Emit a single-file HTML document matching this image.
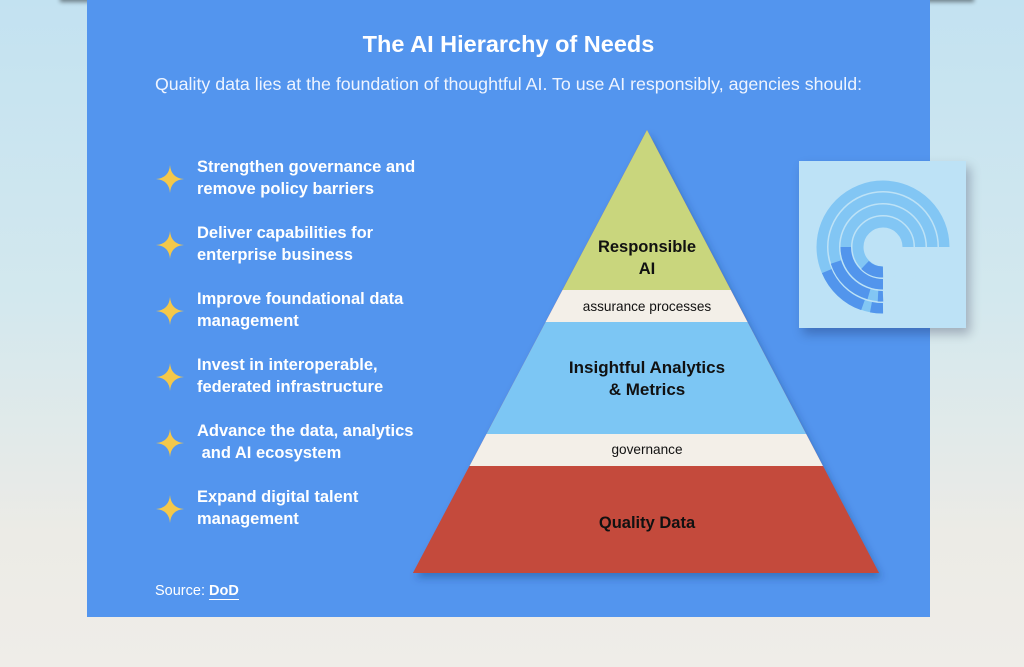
<!DOCTYPE html>
<html><head><style>
html,body{margin:0;padding:0}
body{width:1024px;height:667px;overflow:hidden;position:relative;background:linear-gradient(180deg,#c3e2f1 0%,#d3e8ee 45%,#ecebe6 80%,#efede8 100%);font-family:"Liberation Sans",sans-serif}
.panel{position:absolute;left:87px;top:0;width:843px;height:617px;background:#5395ee}
.top{position:absolute;left:60px;top:-6px;width:914px;height:6px;box-shadow:0 2px 4px rgba(0,0,0,.45)}
h1{position:absolute;left:87px;width:843px;top:31px;margin:0;text-align:center;color:#fff;font-size:23.5px;font-weight:bold}
.sub{position:absolute;left:87px;width:843px;top:74px;text-align:center;color:#eef4ff;font-size:17.8px}
.item{position:absolute;left:197px;color:#fff;font-size:16.5px;font-weight:bold;line-height:22px}
.star{position:absolute;left:155px;width:30px;height:30px}
.src{position:absolute;left:155px;top:583px;color:#fff;font-size:14.5px}
.src b{border-bottom:1px solid #fff}
.logo{position:absolute;left:799px;top:161px;width:167px;height:167px;background:#bde2f6;box-shadow:4px 6px 10px rgba(0,0,40,.25)}
</style></head><body>
<div class="top"></div>
<div class="panel"></div>
<h1>The AI Hierarchy of Needs</h1>
<div class="sub">Quality data lies at the foundation of thoughtful AI. To use AI responsibly, agencies should:</div>

<svg width="0" height="0" style="position:absolute"><defs><g id="st"><path d="M15 1 Q16 14 29 15 Q16 16 15 29 Q14 16 1 15 Q14 14 15 1Z" fill="#f4c84a"/></g></defs></svg>
<svg class="star" style="top:164px"><use href="#st"/></svg>
<svg class="star" style="top:230px"><use href="#st"/></svg>
<svg class="star" style="top:296px"><use href="#st"/></svg>
<svg class="star" style="top:362px"><use href="#st"/></svg>
<svg class="star" style="top:428px"><use href="#st"/></svg>
<svg class="star" style="top:494px"><use href="#st"/></svg>
<div class="item" style="top:156px">Strengthen governance and<br>remove policy barriers</div>
<div class="item" style="top:222px">Deliver capabilities for<br>enterprise business</div>
<div class="item" style="top:288px">Improve foundational data<br>management</div>
<div class="item" style="top:354px">Invest in interoperable,<br>federated infrastructure</div>
<div class="item" style="top:420px">Advance the data, analytics<br>&nbsp;and AI ecosystem</div>
<div class="item" style="top:486px">Expand digital talent<br>management</div>
<div class="src">Source: <b>DoD</b></div>

<svg style="position:absolute;left:0;top:0" width="1024" height="667">
<defs>
<clipPath id="tri"><polygon points="647,130 879,573 413,573"/></clipPath>
<filter id="sh" x="-10%" y="-10%" width="130%" height="130%"><feDropShadow dx="3" dy="5" stdDeviation="4" flood-color="#103070" flood-opacity=".35"/></filter>
</defs>
<polygon points="647,130 879,573 413,573" fill="#c44a3c" filter="url(#sh)"/>
<g clip-path="url(#tri)">
<rect x="400" y="130" width="500" height="160" fill="#c9d67d"/>
<rect x="400" y="290" width="500" height="32" fill="#f3efe8"/>
<rect x="400" y="322" width="500" height="112" fill="#7cc6f4"/>
<rect x="400" y="434" width="500" height="32" fill="#f3efe8"/>
<rect x="400" y="466" width="500" height="107" fill="#c44a3c"/>
</g>
<g font-family="Liberation Sans,sans-serif" text-anchor="middle" fill="#111">
<text x="647" y="252" font-size="16.5" font-weight="bold">Responsible</text>
<text x="647" y="274" font-size="16.5" font-weight="bold">AI</text>
<text x="647" y="311" font-size="13.6">assurance processes</text>
<text x="647" y="373" font-size="17" font-weight="bold">Insightful Analytics</text>
<text x="647" y="395" font-size="17" font-weight="bold">&amp; Metrics</text>
<text x="647" y="454" font-size="13.6">governance</text>
<text x="647" y="528" font-size="16.5" font-weight="bold">Quality Data</text>
</g>
</svg>

<div class="logo">
<svg width="167" height="167" viewBox="799 161 167 167" fill="none">
<g stroke="#82c6f4" stroke-width="11">
<path d="M822 247 A61 61 0 0 1 944 247"/>
<path d="M834 247 A49 49 0 0 1 932 247"/>
<path d="M846 247 A37 37 0 0 1 920 247"/>
<path d="M858 247 A25 25 0 0 1 908 247"/>
<path d="M822 247 A61 61 0 0 0 883 308"/>
<path d="M834 247 A49 49 0 0 0 883 296"/>
<path d="M846 247 A37 37 0 0 0 883 284"/>
<path d="M858 247 A25 25 0 0 0 883 272"/>
</g>
<g stroke="#5295ec" stroke-width="11">
<path d="M827 271 A61 61 0 0 0 863 305"/>
<path d="M836 262 A49 49 0 0 0 869 294"/>
<path d="M846 247 A37 37 0 0 0 883 284"/>
<path d="M865 265 A25 25 0 0 0 883 272"/>
<path d="M871 307 A61 61 0 0 0 883 308"/>
<path d="M878 296 A49 49 0 0 0 883 296"/>
</g>
<g stroke="#bde2f6" stroke-width="1">
<circle cx="883" cy="247" r="55.5"/><circle cx="883" cy="247" r="43.5"/><circle cx="883" cy="247" r="31.5"/>
</g>
</svg>
</div>
</body></html>
